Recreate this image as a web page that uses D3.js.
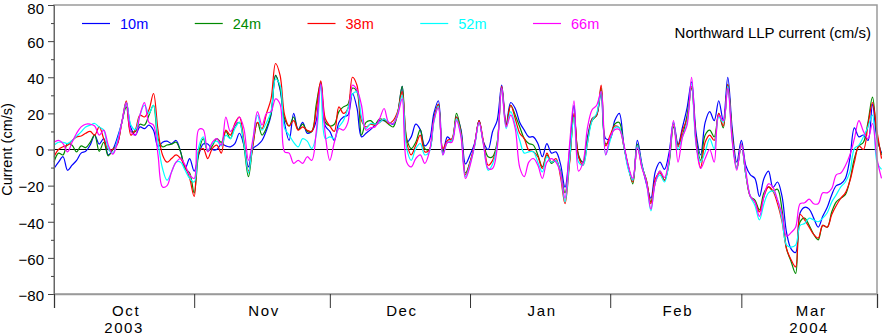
<!DOCTYPE html>
<html><head><meta charset="utf-8">
<script src="https://cdn.jsdelivr.net/npm/d3@7"></script>
<style>
body{margin:0;background:#fff}
svg{display:block}
text{font-family:"Liberation Sans",Arial,Helvetica,sans-serif;fill:#000}
</style>
</head><body>
<svg id="chart" width="882" height="336"></svg>
<script>
// ---------- data ----------
const startDay = "2003-10-01";          // first daily value
const endDay = "2004-03-31";            // right edge of the time axis
const seriesNames = ["10m", "24m", "38m", "52m", "66m"];
const seriesColors = ["#0000ff", "#008a00", "#ff0000", "#00ffff", "#ff00ff"];

const v10m = [
 -10.5,-7,-4,-11.5,-8.7,-6,-2,-1,2.5,8,3,6,-3,0,6.5,15,26,12,8,12.5,11.6,13.5,10.7,1.5,4,4.6,3.3,5,-1.3,-10.5,-5,
 -12,-3,3,3,0,0,3,2,1.5,3.3,9,2.4,-9.6,0.5,2.4,5,10.7,19,41,33,14.4,5,20,11,15,9,10,16,37,13,10,
 5,15,18,19,31,23,7,9,11,13.5,16,16,15,14,20,35,4,7,14,11,2,5,20,27,-2,7,5,18,11,-8,-3,
 3.3,16,4,0,10,16,35.6,14,26,22.7,15,10.7,7,7,3.3,-4,3.3,-2,-1.3,-8,-21,-1,24.5,-4,-7,7,17,19,32,6,6,
 16,20,3,-10,-17,5,-8,-19,-27,-12,-7,-11,-2,15,3,12.5,23,37.5,9,-3,15,21,16,27,16,40,11,-7,
 5,-9,-14,-16,-26,-16,-12,-21,-18,-26,-46,-55,-57,-35,-32,-33,-38,-43,-37,-32,-25,-20,-19,-16,-5,12,7,8,5,25,6,-2
];
const v24m = [
 -7,-2,-3,3.3,2.4,-1.3,2,1,4,8,-1,4,-3.5,0,3,15,23.6,10,10,14,13.5,19,24.5,6,1.5,2.5,3,4,-1.3,-10.5,-13,
 -24,-2,6,-1,2,6,4,10,6,13,15,2,-15,3,15,8,12,20,41,34,17,13,18,11,14,10,10,25,37,15,13,
 14,21,23.6,25,34,32,8,15,16,14,17,16,14,12.5,20,35,6,0.5,4,11,0.5,0,17,25,-1,4,5,20,10,-13,-7,
 2.4,16,3.3,-4,-4,4,34,13.5,24.5,19,12.5,6,3.3,2.4,-3,-9.6,-3,-7.7,-6,-12,-24,-7,19,-3,-7,6,16,19,34,3,6,
 14,15,2,-9,-19,3,-9,-17,-29,-18,-12,-17,-8,12.5,2.4,8,19,34,6,-6,8,10.7,7,20,12,36,8,-10.5,
 3,-14,-26,-28,-33.5,-24,-20.7,-23,-22,-33.5,-55,-62,-68.6,-40,-38,-42,-47,-50,-42,-43,-34.5,-29,-27,-25,-17,-5,2,4,15,29,8,-3
];
const v38m = [
 -4,0,1.5,2.4,5,7,7.5,9,10,8,12.5,6,0,0,3,15,27,8,11,19,18,22,31,10.7,-3,-7,-5,-3,-5,-9.6,-16,
 -26,-1.3,0.5,-5,0.5,2.4,-2,10.7,8,14.4,18,5,-12,2.4,15,11.6,20,28,47.6,41,19,13,16,10.7,12.5,10.7,10,22,38,17,13,
 10,23.6,20,22.7,40,35.6,16,12.5,14,13.5,15,17,14.4,16,21,32,4,-3,2.4,8,-1.3,-0.4,16,25,0.5,5,6,18,9,-14,-7,
 2.4,16,4,-8.7,-6,3,35,13.5,24.5,17,9,6,-0.4,-1.3,-4,-10.5,-2,-7,-5,-15,-30,-8,20,-4,-8.7,4,17,19,35.6,2,8,
 13,12,2,-10,-18,2,-9.6,-17,-30,-16,-13,-17,-7,14,1.5,10.7,17,35,4,-10,4,8,5,20,13,36,7,-10.5,
 2.4,-14,-26,-29,-34.5,-26,-20.7,-23,-30,-40,-55,-61,-65,-36,-39,-43,-47,-49,-42,-43,-36,-31,-27,-24,-17.5,-7,2,0,13.5,26,10,-5
];
const v52m = [
 2.4,4,4,3.3,5,7.4,9.8,12.5,13.5,14.4,12.4,10.7,0.5,-2,5,15,26,13.5,11,19,24.5,20,24.5,4,-10.5,-17,-12.4,-7,-7,-11.5,-16,
 -18,1.5,7,-0.4,3.3,4.6,2,8,6,11.6,15,3.3,-13,5,19,10.7,15,21,39,35.6,11.6,8,4,1.5,6,4.6,0.5,8,35.6,6,7,
 6,12.5,16,22.7,30.6,32,18,11.6,14.4,14,15,17,15,14.4,20,30,0.5,-6,0.5,3.3,-3,-1.3,15,24,-3,4,5,17,8,-15,-8,
 1.5,15,2.4,-11.5,-8,2.4,34,11.6,21,13.5,5,-2,-1.3,-1.3,-7,-12.4,-4,-7,-6,-13,-29,-6,18,-7,-8.7,4,16,20,32,-3,5,
 12,12,2,-11,-17,2,-9,-18,-34,-18,-14,-18,-7,15,0,7,15,36.5,2.4,-7,-1.3,6,0.5,18,15,35,5,-10.5,
 2.4,-14,-26,-31,-39,-30,-24,-23,-28,-39,-53,-54,-53,-42,-41,-38,-39,-40,-38,-35,-29,-25,-20.7,-18,-12.4,0.5,2.4,7,12.5,19,-7,-11
];
const v66m = [
 4,5,3.3,-1.3,4,9,12.5,14,14,13,8,10.7,2.4,-2.6,3.3,15,26,10,8,19,26,15,13.5,-3,-20.7,-20,-12.4,-7,-5,-8.7,-14,
 -16,11,11,-1.3,4,6,2.4,18,10,13.5,18,11.6,-6,6,21,13.5,20,21,28,25,-1.3,-2,-7.7,-6,-7.7,-4,-6,10,36.5,8,-6,
 4,11.6,10.7,15,35.6,33,24.5,10.7,12,12.5,17,22.7,15,14.4,19,28,-7,-9.6,-5,-3,-7.7,-1.3,16,23,-3,4,4,16,7,-16,-9,
 2.4,15,2.4,-10.5,-10.5,0.5,34,12.5,19,11.6,-10,-15,-7,-5,-8.7,-16,-7,-5,-7,-13,-27,2.4,27,-12,-7,12.5,22,24.5,32,-3,7,
 11,11,3,-9,-16,1,-10,-18,-33,-18,-12,-15.5,-5,16,-7,7,13.5,40,3,-10.5,-5,0,-7,19,16,34,4,-11.5,
 3,-12,-26,-29,-37,-26,-19,-21,-28,-36,-48,-46,-43,-30,-29.5,-27.5,-30,-30,-24,-24,-21.6,-14,-13,-9,-3,6,16,10,6,14.4,-5,-16
];
const seriesValues = [v10m, v24m, v38m, v52m, v66m];

const yMajorTicks = [-80, -60, -40, -20, 0, 20, 40, 60, 80];
const yMinorTicks = [-70, -50, -30, -10, 10, 30, 50, 70];
const monthStarts = ["2003-10-01","2003-11-01","2003-12-01","2004-01-01","2004-02-01","2004-03-01","2004-03-31"];
const monthLabels = ["Oct","Nov","Dec","Jan","Feb","Mar"];
const yearLabels = ["2003","","","","","2004"];
const yAxisTitle = "Current (cm/s)";
const chartTitle = "Northward LLP current (cm/s)";

// ---------- drawing ----------
const W = 882, H = 336;
const M = {left: 54, right: 5, top: 5, bottom: 42};
const svg = d3.select("#chart");
const parse = d3.utcParse("%Y-%m-%d");
const t0 = parse(startDay);

const x = d3.scaleUtc().domain([t0, parse(endDay)]).range([M.left, W - M.right]);
const y = d3.scaleLinear().domain([-80, 80]).range([H - M.bottom, M.top]);
const date = i => d3.utcDay.offset(t0, i);

const line = d3.line()
  .x((d, i) => x(date(i)))
  .y(d => y(d))
  .curve(d3.curveCatmullRom.alpha(0.5));

// zero line
svg.append("line")
  .attr("x1", x.range()[0]).attr("x2", x.range()[1])
  .attr("y1", y(0)).attr("y2", y(0))
  .attr("stroke", "#000").attr("stroke-width", 1.1);

// series
seriesValues.forEach((vals, k) => {
  svg.append("path")
    .datum(vals)
    .attr("fill", "none")
    .attr("stroke", seriesColors[k])
    .attr("stroke-width", 1.2)
    .attr("stroke-linejoin", "round")
    .attr("d", line);
});

// frame
svg.append("rect")
  .attr("x", x.range()[0]).attr("y", y.range()[1])
  .attr("width", x.range()[1] - x.range()[0])
  .attr("height", y.range()[0] - y.range()[1])
  .attr("fill", "none").attr("stroke", "#9a9a9a").attr("stroke-width", 1.5);

// left axis
const yAxis = d3.axisLeft(y).tickValues(yMajorTicks).tickSize(6).tickPadding(4).tickFormat(d3.format("d"));
const gy = svg.append("g").attr("transform", `translate(${M.left},0)`).call(yAxis);
gy.select(".domain").attr("stroke", "#666");
gy.selectAll(".tick line").attr("stroke", "#444");
gy.selectAll(".tick text").attr("font-size", 15)
  .attr("dy", d => d === d3.max(yMajorTicks) ? "0.58em" : "0.42em")
  .attr("font-family", '"Liberation Sans",Arial,sans-serif').attr("fill", "#000");
const gyMinor = svg.append("g").attr("transform", `translate(${M.left},0)`)
  .call(d3.axisLeft(y).tickValues(yMinorTicks).tickSize(3).tickFormat(""));
gyMinor.select(".domain").remove();
gyMinor.selectAll(".tick line").attr("stroke", "#444");

// bottom axis ticks
const xAxis = d3.axisBottom(x).tickValues(monthStarts.map(parse)).tickSize(14).tickFormat("");
const gx = svg.append("g").attr("transform", `translate(0,${H - M.bottom})`).call(xAxis);
gx.select(".domain").attr("stroke", "#9a9a9a").attr("stroke-width", 1.5);
gx.selectAll(".tick line").attr("stroke", "#333");

// month labels at mid-month, year below the first and last
const starts = monthStarts.map(parse);
monthLabels.forEach((m, i) => {
  const cx = (x(starts[i]) + x(starts[i + 1])) / 2 + 2;
  svg.append("text").attr("x", cx).attr("y", 316)
    .attr("text-anchor", "middle").attr("font-size", 15).attr("letter-spacing", 1.6).text(m);
  if (yearLabels[i]) {
    svg.append("text").attr("x", cx - 2).attr("y", 332.6)
      .attr("text-anchor", "middle").attr("font-size", 15).attr("letter-spacing", 1.6).text(yearLabels[i]);
  }
});

// y title
svg.append("text")
  .attr("transform", `translate(12,${y(0)}) rotate(-90)`)
  .attr("text-anchor", "middle").attr("font-size", 14.5).text(yAxisTitle);

// chart title
svg.append("text").attr("x", 871).attr("y", 38)
  .attr("text-anchor", "end").attr("font-size", 15).text(chartTitle);

// legend
const lx = d3.scalePoint().domain(seriesNames).range([82, 533]);
seriesNames.forEach((n, k) => {
  const g = svg.append("g").attr("transform", `translate(${lx(n)},0)`);
  g.append("line").attr("x1", 0).attr("x2", 28).attr("y1", 23.5).attr("y2", 23.5)
    .attr("stroke", seriesColors[k]).attr("stroke-width", 1.2);
  g.append("text").attr("x", 38).attr("y", 29).attr("font-size", 14.5)
    .style("fill", seriesColors[k]).text(n);
});
</script>
</body></html>
